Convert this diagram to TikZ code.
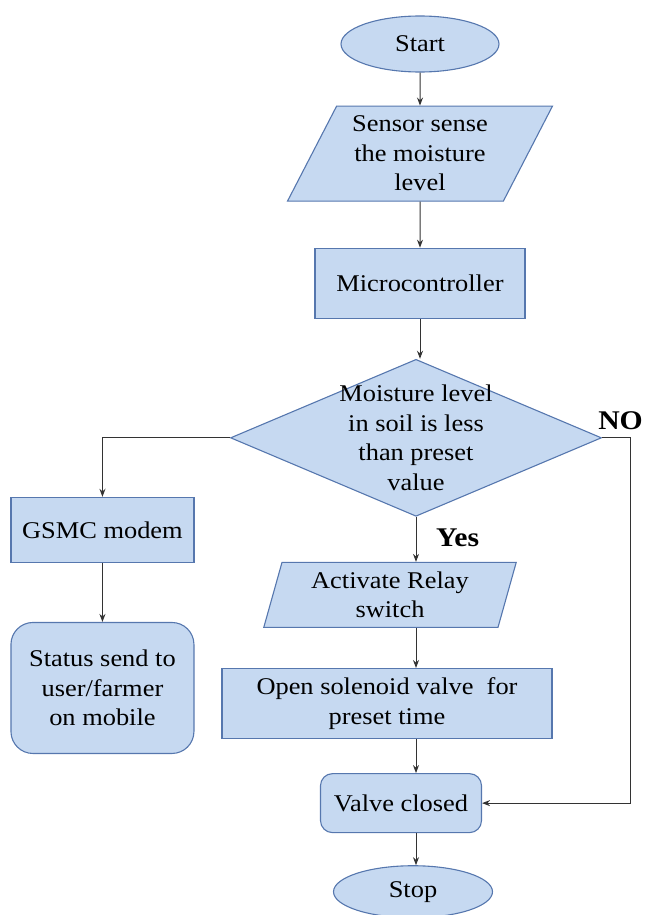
\documentclass[tikz,border=0pt]{standalone}
\usepackage{fontspec}
\setmainfont{Liberation Serif}[FakeStretch=1.1]
\usepackage{xcolor}
\usetikzlibrary{arrows.meta,positioning,shapes.geometric,calc}

\definecolor{boxfill}{HTML}{C6D9F1}
\definecolor{boxline}{HTML}{5677AE}

\begin{document}
\begin{tikzpicture}[
    x=1pt, y=1pt,
    node distance=40pt,
    base/.style={draw=boxline, fill=boxfill, line width=1.1pt, inner sep=0pt, align=center, font=\fontsize{24}{29.5}\selectfont},
    terminal/.style={base, ellipse, minimum width=158pt, minimum height=56pt},
    iobox/.style={base, trapezium, trapezium stretches=true},
    procbox/.style={base, rectangle},
    decision/.style={base, diamond, minimum width=371pt, minimum height=157pt},
    lbl/.style={inner sep=0pt, font=\fontsize{27}{32}\selectfont\bfseries},
    arrow/.style={-{Stealth[length=8pt, width=6pt]}, line width=1pt, draw=black!80},
  ]
  \useasboundingbox (0,0) rectangle (646,-915);

  % Main column
  \node[terminal] (start) at (420,-44) {Start};
  \node[iobox, trapezium left angle=62, trapezium right angle=118, minimum width=265pt, minimum height=95pt, below=33pt of start] (sensor) {Sensor sense\\the moisture\\level};
  \node[procbox, minimum width=210pt, minimum height=70pt, below=46pt of sensor] (micro) {Microcontroller};
  \node[decision, below=40pt of micro, xshift=-4pt] (dec) {};
  \node[font=\fontsize{24}{29.5}\selectfont, align=center, inner sep=0pt] (dectext) at (dec.center) {Moisture level\\in soil is less\\than preset\\value};

  % Yes branch
  \node[iobox, trapezium left angle=74, trapezium right angle=106, minimum width=253pt, minimum height=65pt, below=45pt of dec, xshift=-26pt] (relay) {Activate Relay\\switch};
  \node[procbox, minimum width=330pt, minimum height=70pt, below=40pt of relay, xshift=-3pt] (valve) {Open solenoid valve~~for\\preset time};
  \node[procbox, rounded corners=12pt, minimum width=161pt, minimum height=59pt, below=34pt of valve, xshift=14pt] (closed) {Valve closed};
  \node[terminal, minimum width=159pt, minimum height=52pt, below=32pt of closed, xshift=12pt] (stop) {Stop};

  % GSM branch
  \node[procbox, minimum width=183pt, minimum height=65pt, below=59pt of dec.west, xshift=-127.5pt] (gsm) {GSMC modem};
  \node[procbox, rounded corners=22pt, minimum width=183pt, minimum height=131pt, below=59pt of gsm] (status) {Status send to\\user/farmer\\on mobile};

  % Labels
  \node[lbl, anchor=south west] (nolbl) at ([xshift=-4pt, yshift=8pt]dec.east) {NO};
  \node[lbl, anchor=north west] (yeslbl) at ([xshift=20pt, yshift=-12pt]dec.south) {Yes};

  % Connectors
  \draw[arrow] (start) -- (sensor);
  \draw[arrow] (sensor) -- (micro);
  \draw[arrow] (micro.south) -- (micro.south |- dec.north);
  \draw[arrow] (dec.south) -- (dec.south |- relay.north);
  \draw[arrow] (dec.south |- relay.south) -- (dec.south |- valve.north);
  \draw[arrow] (dec.south |- valve.south) -- (dec.south |- closed.north);
  \draw[arrow] (dec.south |- closed.south) -- (dec.south |- stop.north);
  \draw[arrow] (dec.west) -| (gsm.north);
  \draw[arrow] (gsm) -- (status);
  \draw[arrow] (dec.east) -- ++(28pt,0) |- (closed.east);
\end{tikzpicture}
\end{document}
